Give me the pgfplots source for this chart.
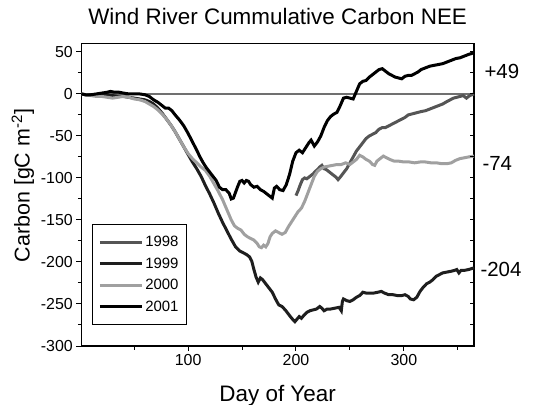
\documentclass[border=0pt]{standalone}
\usepackage{fontspec}
\setmainfont{Liberation Sans}
\usepackage{pgfplots}
\pgfplotsset{compat=1.18}
\definecolor{c98}{HTML}{555555}
\definecolor{c99}{HTML}{1E1E1E}
\definecolor{c00}{HTML}{A0A0A0}
\definecolor{c01}{HTML}{000000}
\definecolor{zeroline}{HTML}{707070}
\begin{document}
\begin{tikzpicture}
\begin{axis}[
  scale only axis, width=392.7bp, height=302.5bp,
  xmin=1, xmax=365, ymin=-300, ymax=60,
  clip=false,
  xtick={100,200,300}, minor xtick={50,150,250,350},
  ytick={-300,-250,-200,-150,-100,-50,0,50},
  minor ytick={-275,-225,-175,-125,-75,-25,25},
  xtick pos=bottom, ytick pos=left, tick align=outside,
  major tick length=5bp, minor tick length=3.5bp,
  axis line style={line width=1.1bp},
  every tick/.style={black, line width=1bp},
  tick label style={font=\fontsize{16}{16}\selectfont},
  /pgf/number format/assume math mode=true,
  title={Wind River Cummulative Carbon NEE},
  title style={font=\fontsize{22.5}{22}\selectfont, at={(axis description cs:0.5,1.0446)}, anchor=base},
  xlabel={Day of Year},
  xlabel style={font=\fontsize{22.5}{22}\selectfont, at={(axis description cs:0.5,-0.184)}, anchor=base},
  ylabel={Carbon [gC m\textsuperscript{-2}]},
  ylabel style={font=\fontsize{21.5}{21}\selectfont, at={(axis description cs:-0.149,0.5306)}, anchor=center},
  legend image code/.code={\draw[#1] (0bp,0bp) -- (42bp,0bp);},
  legend cell align=left,
  legend style={at={(0.027,0.4035)}, anchor=north west, draw=black, line width=0.8bp,
    font=\fontsize{15}{15}\selectfont, row sep=5.6bp, inner xsep=6bp, inner ysep=10bp},
]
\addplot[zeroline, line width=1.3bp, forget plot] coordinates {(1,0)(365,0)};

\addplot[c98, line width=3bp] coordinates {
(200,-121)(202,-115)(204,-108)(206,-102)(208,-100)(210,-101)(213,-98)(216,-95)(218,-92)(220,-90)(222,-87)(224,-85)(226,-89)(228,-90)(231,-93)(234,-96)(237,-99)(239,-102)(241,-99)(244,-94)(247,-89)(250,-82)(253,-75)(256,-68)(259,-63)(262,-58)(265,-53)(268,-50)(271,-48)(274,-46)(277,-42)(280,-40)(283,-40)(286,-38)(289,-36)(292,-34)(295,-32)(298,-30)(301,-28)(304,-25)(307,-24)(310,-23)(313,-22)(316,-21)(320,-20)(324,-18)(328,-16)(332,-14)(336,-12)(340,-9)(343,-7)(346,-5)(349,-4)(352,-3)(355,-2)(358,-5)(361,-2)(365,0)
};
\addlegendentry{1998}

\addplot[c99, line width=3bp] coordinates {
(1,0)(5,-1)(10,-1)(15,-2)(20,-2)(25,-1)(30,-2)(35,-3)(40,-3)(45,-4)(50,-5)(55,-6)(60,-7)(64,-9)(68,-12)(72,-17)(76,-23)(80,-30)(84,-37)(88,-45)(92,-54)(96,-63)(100,-72)(104,-81)(108,-89)(112,-98)(116,-109)(120,-119)(124,-130)(128,-142)(132,-153)(136,-163)(140,-173)(144,-182)(148,-187)(151,-189)(154,-191)(157,-194)(159,-199)(161,-209)(163,-218)(165,-224)(167,-219)(169,-221)(172,-226)(175,-231)(178,-236)(181,-244)(184,-251)(187,-253)(190,-257)(193,-262)(196,-267)(199,-271)(201,-268)(203,-265)(205,-267)(207,-264)(210,-260)(213,-258)(216,-257)(219,-256)(222,-253)(224,-255)(226,-258)(229,-256)(232,-256)(236,-255)(240,-254)(242,-258)(243,-247)(244,-244)(247,-246)(250,-247)(253,-245)(256,-242)(259,-240)(262,-236)(265,-237)(268,-237)(272,-237)(276,-236)(279,-235)(282,-237)(286,-239)(290,-239)(294,-240)(298,-240)(301,-239)(304,-241)(306,-244)(309,-245)(312,-242)(315,-235)(318,-230)(321,-226)(324,-224)(327,-221)(330,-217)(333,-215)(336,-213)(340,-212)(344,-211)(347,-210)(349,-209)(351,-213)(353,-210)(356,-210)(360,-209)(365,-207)
};
\addlegendentry{1999}

\addplot[c00, line width=3bp] coordinates {
(1,0)(5,-1)(10,-2)(15,-3)(20,-3)(25,-4)(30,-5)(35,-4)(40,-3)(45,-4)(50,-6)(55,-7)(60,-9)(64,-12)(68,-15)(72,-19)(76,-24)(80,-30)(84,-37)(88,-45)(92,-54)(96,-63)(100,-71)(104,-77)(108,-82)(112,-87)(116,-91)(120,-98)(124,-107)(128,-116)(132,-126)(136,-138)(140,-150)(143,-157)(146,-160)(149,-162)(152,-167)(155,-170)(158,-172)(161,-174)(164,-178)(166,-182)(168,-183)(170,-180)(172,-182)(174,-178)(176,-170)(178,-166)(181,-163)(184,-165)(187,-167)(190,-165)(193,-158)(196,-152)(199,-146)(202,-140)(205,-136)(208,-128)(211,-118)(214,-108)(217,-98)(220,-92)(223,-89)(226,-87)(230,-86)(234,-85)(238,-84)(242,-84)(246,-82)(250,-84)(253,-81)(256,-78)(259,-73)(262,-75)(265,-78)(268,-80)(271,-84)(273,-85)(275,-80)(278,-77)(281,-74)(284,-76)(287,-78)(291,-80)(295,-80)(300,-81)(305,-81)(310,-82)(315,-81)(320,-81)(325,-82)(330,-82)(335,-83)(340,-83)(344,-82)(348,-79)(352,-77)(356,-76)(360,-75)(365,-74)
};
\addlegendentry{2000}

\addplot[c01, line width=3bp] coordinates {
(1,0)(5,-1)(10,-1)(15,0)(20,1)(25,2)(28,3)(32,2)(36,2)(40,1)(45,0)(50,0)(55,0)(60,-1)(64,-3)(68,-7)(72,-10)(76,-14)(79,-17)(82,-17)(85,-20)(88,-25)(92,-31)(96,-38)(100,-47)(104,-57)(108,-67)(111,-75)(114,-82)(117,-88)(120,-93)(123,-98)(126,-103)(129,-111)(132,-114)(135,-114)(138,-118)(140,-125)(142,-124)(144,-117)(146,-110)(148,-104)(150,-103)(152,-106)(154,-103)(156,-104)(158,-108)(161,-111)(164,-110)(167,-114)(170,-116)(173,-119)(176,-122)(178,-124)(180,-112)(182,-110)(185,-114)(188,-115)(191,-108)(194,-96)(197,-80)(200,-70)(203,-67)(206,-70)(209,-64)(212,-58)(214,-55)(217,-62)(220,-57)(223,-50)(226,-40)(229,-32)(232,-27)(235,-24)(238,-22)(241,-14)(244,-5)(247,-4)(250,-5)(253,-6)(256,3)(259,12)(262,15)(265,16)(268,20)(271,23)(274,26)(277,29)(280,30)(283,27)(286,24)(289,22)(292,20)(295,19)(298,18)(301,21)(304,22)(307,22)(310,24)(313,26)(316,29)(320,31)(324,33)(328,34)(332,35)(336,36)(340,38)(344,40)(348,42)(352,43)(356,45)(360,47)(365,49)
};
\addlegendentry{2001}

\pgfplotsinvokeforeach{-275,-250,-225,-200,-175,-150,-125,-100,-75,-50,-25,0,25,50}{
  \draw[black, line width=1bp] (axis cs:365,#1) -- ++(-4bp,0pt);
}
\node[anchor=west, font=\fontsize{20.5}{20}\selectfont, xshift=7bp] at (axis cs:365,26.5) {+49};
\node[anchor=west, font=\fontsize{20.5}{20}\selectfont, xshift=5bp] at (axis cs:365,-82.5) {-74};
\node[anchor=west, font=\fontsize{20.5}{20}\selectfont, xshift=3bp] at (axis cs:365,-209.5) {-204};
\end{axis}
\pgfresetboundingbox
\path (-81.3bp,-59bp) rectangle (452.7bp,346bp);
\end{tikzpicture}
\end{document}
